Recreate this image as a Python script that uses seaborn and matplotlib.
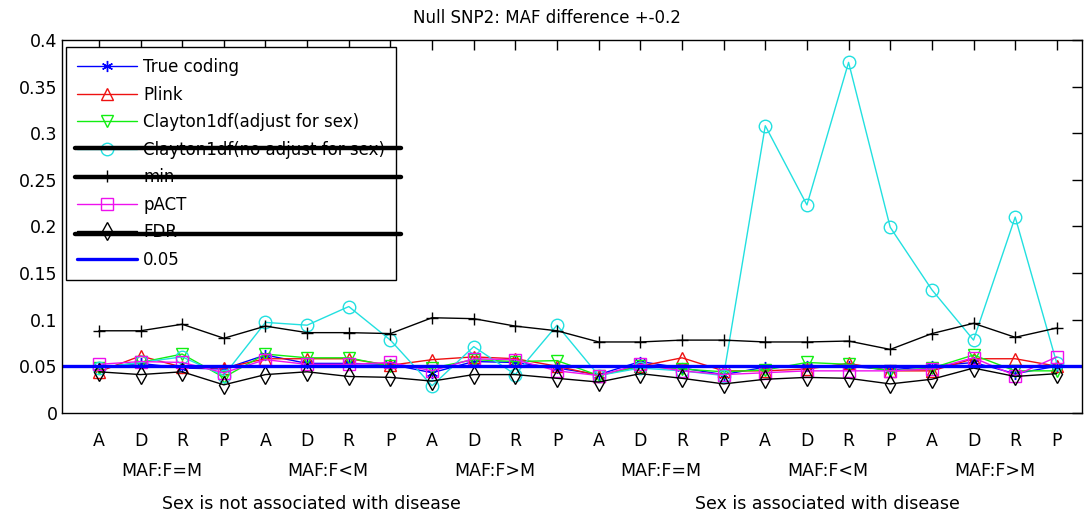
import matplotlib
matplotlib.use('Agg')
import matplotlib.pyplot as plt
import numpy as np
import pandas as pd
import seaborn as sns


# positions along the x axis, and their labels
POS = list(range(1, 25))
TICK_LABELS = ['A', 'D', 'R', 'P'] * 6
GROUP_LABELS = ['MAF:F=M', 'MAF:F<M', 'MAF:F>M', 'MAF:F=M', 'MAF:F<M', 'MAF:F>M']
SEX_LABELS = ['Sex is not associated with disease', 'Sex is associated with disease']

true_coding = [0.049, 0.053, 0.048, 0.047, 0.062, 0.053, 0.053, 0.052, 0.043, 0.055, 0.054, 0.048,
               0.041, 0.055, 0.048, 0.041, 0.049, 0.050, 0.050, 0.046, 0.050, 0.054, 0.042, 0.050]
plink = [0.044, 0.061, 0.049, 0.048, 0.058, 0.058, 0.058, 0.051, 0.057, 0.060, 0.058, 0.050,
         0.040, 0.050, 0.059, 0.045, 0.045, 0.047, 0.053, 0.045, 0.045, 0.058, 0.058, 0.050]
clayton_adj = [0.048, 0.054, 0.063, 0.038, 0.063, 0.059, 0.059, 0.050, 0.048, 0.057, 0.055, 0.056,
               0.040, 0.050, 0.047, 0.044, 0.046, 0.054, 0.052, 0.045, 0.048, 0.062, 0.045, 0.045]
clayton_noadj = [0.048, 0.054, 0.060, 0.040, 0.097, 0.094, 0.114, 0.078, 0.029, 0.071, 0.041, 0.094,
                 0.040, 0.048, 0.045, 0.040, 0.308, 0.223, 0.376, 0.199, 0.132, 0.078, 0.210, 0.053]
min_p = [0.088, 0.088, 0.095, 0.080, 0.093, 0.086, 0.086, 0.085, 0.102, 0.101, 0.093, 0.088,
         0.076, 0.076, 0.078, 0.078, 0.076, 0.076, 0.077, 0.068, 0.085, 0.096, 0.081, 0.091]
pact = [0.052, 0.055, 0.054, 0.043, 0.057, 0.052, 0.052, 0.054, 0.045, 0.058, 0.057, 0.045,
        0.040, 0.052, 0.045, 0.041, 0.043, 0.045, 0.045, 0.045, 0.047, 0.059, 0.040, 0.060]
fdr = [0.044, 0.041, 0.044, 0.030, 0.041, 0.044, 0.039, 0.038, 0.034, 0.041, 0.041, 0.037,
       0.033, 0.042, 0.037, 0.031, 0.036, 0.038, 0.037, 0.031, 0.036, 0.048, 0.039, 0.042]
ALPHA = 0.05

# asterisk marker, like MATLAB's '*'
ASTERISK = (6, 2, 0)

SERIES = [
    ('True coding', true_coding, '#0000ff', ASTERISK),
    ('Plink', plink, '#ee1111', '^'),
    ('Clayton1df(adjust for sex)', clayton_adj, '#11ee11', 'v'),
    ('Clayton1df(no adjust for sex)', clayton_noadj, '#22e0e0', 'o'),
    ('min', min_p, '#000000', '+'),
    ('pACT', pact, '#ee11ee', 's'),
    ('FDR', fdr, '#000000', 'd'),
]

sns.set_style('white')
plt.rcParams['font.family'] = ['DejaVu Sans']
plt.rcParams['xtick.direction'] = 'in'
plt.rcParams['ytick.direction'] = 'in'
plt.rcParams['text.color'] = 'black'
plt.rcParams['xtick.color'] = 'black'
plt.rcParams['ytick.color'] = 'black'
plt.rcParams['axes.labelcolor'] = 'black'

fig = plt.figure(figsize=(10.84, 5.16), dpi=100)
ax = fig.add_axes([0.057, 0.200, 0.941, 0.7225])

for name, vals, color, marker in SERIES:
    df = pd.DataFrame({'x': POS, 'p': vals})
    sns.lineplot(data=df, x='x', y='p', ax=ax, color=color, marker=marker,
                 markersize=8 if marker in (ASTERISK, '+') else 9,
                 markerfacecolor='none', markeredgecolor=color, markeredgewidth=1.0,
                 linewidth=1.0, label=name)
ax.axhline(ALPHA, color='#0000ff', lw=2.4, label='0.05')

ax.set_xlim(0.11, 24.6)
ax.set_ylim(0, 0.4)
ax.set_xticks(POS)
ax.set_xticklabels(TICK_LABELS)
yt = np.arange(0, 0.401, 0.05)
ax.set_yticks(yt)
ax.set_yticklabels([f'{v:g}' for v in yt])
ax.tick_params(axis='both', which='both', top=True, right=True, length=7.5, width=1,
               labelsize=12.5, color='black')
ax.tick_params(axis='x', pad=14)
ax.tick_params(axis='y', pad=3)
ax.set_xlabel('')
ax.set_ylabel('')
for s in ax.spines.values():
    s.set_color('black')
    s.set_linewidth(1)

ax.set_title('Null SNP2: MAF difference +-0.2', fontsize=12, x=0.4755, pad=12)

# group labels under the tick labels
trans = ax.get_xaxis_transform()
for i, lab in enumerate(GROUP_LABELS):
    ax.text(2.5 + 4 * i, -0.155, lab, transform=trans, ha='center', va='center', fontsize=12.5)
for xc, lab in zip([6.1, 18.5], SEX_LABELS):
    ax.text(xc, -0.245, lab, transform=trans, ha='center', va='center', fontsize=12.5)

leg = ax.legend(loc='upper left', bbox_to_anchor=(0.004, 0.98), fontsize=12, frameon=True,
                fancybox=False, edgecolor='black', framealpha=1, handlelength=3.6,
                labelspacing=0.57, borderpad=0.65, handletextpad=0.4, borderaxespad=0)
leg.get_frame().set_linewidth(1)

# thick strike-through bars over some legend entries
for yy in [0.7105, 0.6327, 0.48]:
    ax.plot([0.0127, 0.333], [yy, yy], transform=ax.transAxes, color='black', lw=3.2,
            zorder=10, clip_on=False)

fig.savefig('out.png', dpi=100)
plt.close(fig)
